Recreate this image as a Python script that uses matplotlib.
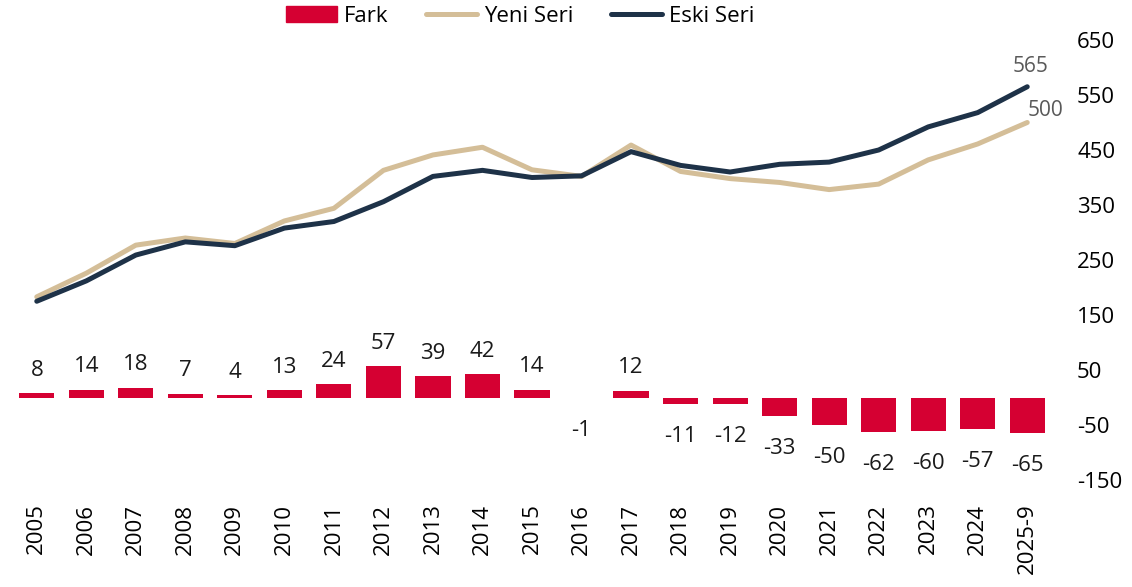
import matplotlib
matplotlib.use("Agg")
import matplotlib.pyplot as plt
from matplotlib.patches import Patch
from matplotlib.lines import Line2D
import numpy as np

plt.rcParams['font.family'] = ['Open Sans', 'DejaVu Sans']

# veriler
yillar = ["2005", "2006", "2007", "2008", "2009", "2010", "2011", "2012", "2013",
          "2014", "2015", "2016", "2017", "2018", "2019", "2020", "2021", "2022",
          "2023", "2024", "2025-9"]
eski_seri = [175, 212, 259, 283, 276, 308, 320, 356, 402, 413, 400, 403, 447,
             422, 410, 424, 428, 450, 492, 518, 565]
yeni_seri = [183, 226, 277, 290, 280, 321, 344, 413, 441, 455, 414, 402, 459,
             411, 398, 391, 378, 388, 432, 461, 500]
fark = [8, 14, 18, 7, 4, 13, 24, 57, 39, 42, 14, -1, 12, -11, -12, -33, -50,
        -62, -60, -57, -65]
y_ticks = [650, 550, 450, 350, 250, 150, 50, -50, -150]

kirmizi = "#D50032"
bej = "#D4BE98"
lacivert = "#1E3248"

fig = plt.figure(figsize=(11.32, 5.87), dpi=100)
W, H = 1132, 587
ax = fig.add_axes([12 / W, (H - 480) / H, 1040 / W, 440 / H])

x = np.arange(len(yillar))
bars = ax.bar(x, fark, width=0.71, color=kirmizi, zorder=2)
# pozitif ve negatif etiketler farkli bosluklarla
ax.bar_label(bars, labels=[str(v) if v >= 0 else "" for v in fark], padding=9,
             fontsize=16, color="#1a1a1a")
ax.bar_label(bars, labels=[str(v) if v < 0 else "" for v in fark], padding=16,
             fontsize=16, color="#1a1a1a")

ax.plot(x, yeni_seri, color=bej, lw=3.6, zorder=3, solid_capstyle='round')
ax.plot(x, eski_seri, color=lacivert, lw=3.6, zorder=4, solid_capstyle='round')

# son deger etiketleri
ax.annotate(str(eski_seri[-1]), (x[-1], eski_seri[-1]), xytext=(3, 10),
            textcoords='offset pixels', ha='center', va='bottom',
            fontsize=15, color="#595959")
ax.annotate(str(yeni_seri[-1]), (x[-1], yeni_seri[-1]), xytext=(0, 2),
            textcoords='offset pixels', ha='left', va='bottom',
            fontsize=15, color="#595959")

ax.set_xlim(-0.5, len(yillar) - 0.5)
ax.set_ylim(-150, 650)
ax.set_xticks(x)
ax.set_xticklabels(yillar, rotation=90, fontsize=16)
ax.yaxis.tick_right()
ax.set_yticks(y_ticks)
ax.set_yticklabels([str(t) for t in y_ticks], fontsize=16)
ax.tick_params(axis='both', length=0)
ax.tick_params(axis='y', pad=18)
ax.tick_params(axis='x', pad=17)
for s in ax.spines.values():
    s.set_visible(False)

handles = [Patch(color=kirmizi, label="Fark"),
           Line2D([], [], color=bej, lw=3.6, solid_capstyle='round', label="Yeni Seri"),
           Line2D([], [], color=lacivert, lw=3.6, solid_capstyle='round', label="Eski Seri")]
fig.legend(handles=handles, loc='center', bbox_to_anchor=(520 / W, 1 - 16 / H),
           ncol=3, frameon=False, fontsize=16, handlelength=2.3,
           handletextpad=0.3, columnspacing=1.7, handleheight=0.7)

fig.savefig("out.png", dpi=100)
